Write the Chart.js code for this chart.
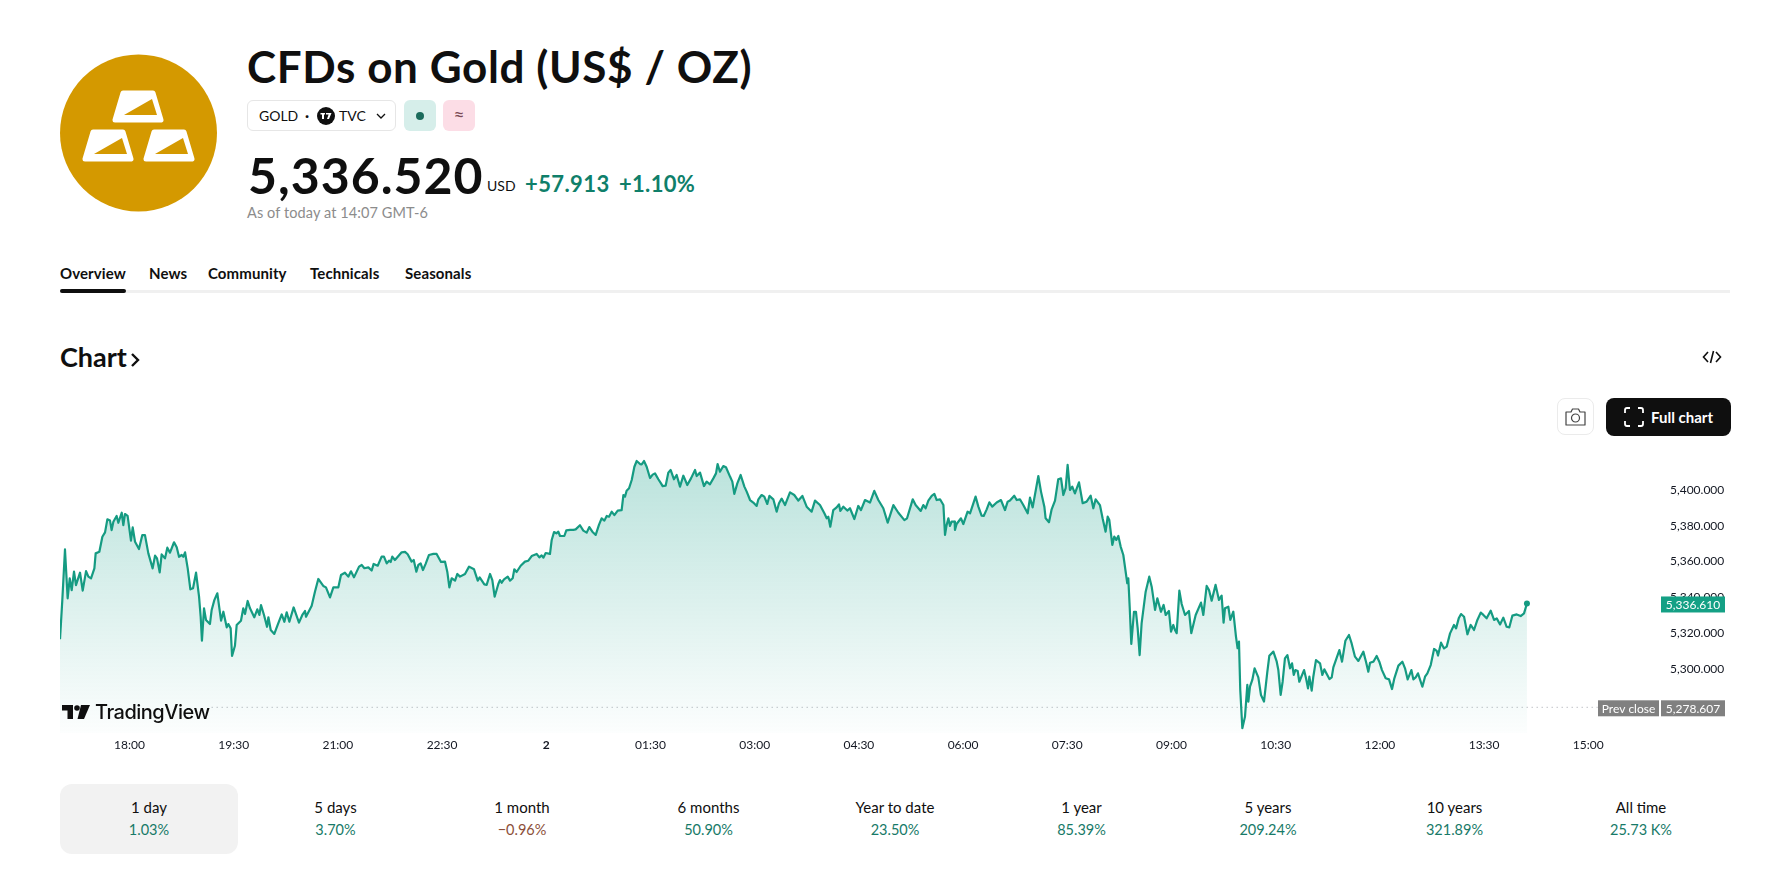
<!DOCTYPE html>
<html>
<head>
<meta charset="utf-8">
<title>CFDs on Gold (US$ / OZ)</title>
<script src="https://cdn.jsdelivr.net/npm/chart.js@4"></script>
<style>
  html, body { margin: 0; background: #fff; }
  body { width: 1771px; height: 873px; position: relative; overflow: hidden; font-family: Lato, "Noto Sans", sans-serif; color: #0f0f0f; }
  .abs { position: absolute; white-space: nowrap; }
  .chip { position: absolute; top: 100px; height: 31px; border-radius: 6px; box-sizing: border-box; }
  .tab { position: absolute; top: 263px; font-size: 15px; font-weight: 700; line-height: 20px; letter-spacing: 0.1px; }
  .period { position: absolute; top: 784px; width: 178px; height: 70px; text-align: center; border-radius: 12px; }
  .period .name { position: absolute; left: 0; right: 0; top: 13px; font-size: 15px; line-height: 20px; }
  .period .perf { position: absolute; left: 0; right: 0; top: 36px; font-size: 14.5px; line-height: 20px; color: #177a68; }
  #chartWrap { position: absolute; left: 60px; top: 440px; }
</style>
</head>
<body>

<svg class="abs" style="left:60px;top:54px" width="157" height="158" viewBox="60 54 157 158">
  <circle cx="138.5" cy="133" r="78.5" fill="#d49900"/>
  <g id="bar">
    <path d="M123 93 L153 93 L161 120 L115 120 Z" fill="#fff" stroke="#fff" stroke-width="5" stroke-linejoin="round"/>
    <path d="M152 99 L157 115 L124 115 Z" fill="#d49900"/>
  </g>
  <use href="#bar" x="-30" y="39"/>
  <use href="#bar" x="31" y="39"/>
</svg>

<div class="abs" style="left:247px;top:39px;font-size:44px;font-weight:700;line-height:54px;letter-spacing:0.6px">CFDs on Gold (US$ / OZ)</div>

<div class="chip" style="left:247px;width:149px;border:1px solid #e6e6e6"></div>
<div class="abs" style="left:259px;top:106px;font-size:14px;line-height:20px">GOLD</div>
<div class="abs" style="left:305px;top:105px;font-size:15px;line-height:20px;font-weight:700">·</div>
<svg class="abs" style="left:317px;top:107px" width="18" height="18" viewBox="0 0 18 18">
  <circle cx="9" cy="9" r="9" fill="#0f0f0f"/>
  <path d="M3.5 6 H8 V7.5 H7 V12 H5 V7.5 H3.5 Z M9 6 H14.5 L12 12 H10 L11.6 7.5 H9 Z" fill="#fff"/>
</svg>
<div class="abs" style="left:339px;top:106px;font-size:14px;line-height:20px">TVC</div>
<svg class="abs" style="left:376px;top:112px" width="10" height="8" viewBox="0 0 10 8"><path d="M1 2 L5 6 L9 2" fill="none" stroke="#0f0f0f" stroke-width="1.3"/></svg>
<div class="chip" style="left:404px;width:32px;background:#d6eeea"></div>
<div class="abs" style="left:416px;top:112px;width:8px;height:8px;border-radius:50%;background:#1b6b5c"></div>
<div class="chip" style="left:443px;width:32px;background:#fcdde6"></div>
<div class="abs" style="left:443px;width:32px;text-align:center;top:104px;font-size:19px;line-height:22px;color:#7a4a55">≈</div>

<div class="abs" style="left:248px;top:145px;font-size:50px;font-weight:700;line-height:60px;letter-spacing:1px">5,336.520</div>
<div class="abs" style="left:487px;top:177px;font-size:14px;line-height:18px">USD</div>
<div class="abs" style="left:525px;top:171px;font-size:22px;font-weight:700;line-height:26px;letter-spacing:0.4px;color:#0f7f6a">+57.913</div>
<div class="abs" style="left:619px;top:171px;font-size:22px;font-weight:700;line-height:26px;letter-spacing:0.3px;color:#0f7f6a">+1.10%</div>
<div class="abs" style="left:247px;top:203px;font-size:14.5px;line-height:20px;letter-spacing:0.1px;color:#8c8c8c">As of today at 14:07 GMT-6</div>

<div class="tab" style="left:60px">Overview</div>
<div class="tab" style="left:149px">News</div>
<div class="tab" style="left:208px">Community</div>
<div class="tab" style="left:310px">Technicals</div>
<div class="tab" style="left:405px">Seasonals</div>
<div class="abs" style="left:60px;top:290px;width:1670px;height:3px;background:#f0f0f0"></div>
<div class="abs" style="left:60px;top:289px;width:66px;height:4px;border-radius:2px;background:#0f0f0f"></div>

<div class="abs" style="left:60px;top:340px;font-size:27px;font-weight:700;line-height:34px">Chart</div>
<svg class="abs" style="left:130px;top:352px" width="10" height="16" viewBox="0 0 10 16"><path d="M2 2 L8 8 L2 14" fill="none" stroke="#0f0f0f" stroke-width="2.4"/></svg>
<svg class="abs" style="left:1702px;top:348px" width="20" height="18" viewBox="0 0 20 18"><path d="M6 4 L1.5 9 L6 14 M14 4 L18.5 9 L14 14 M11.5 3 L8.5 15" fill="none" stroke="#0f0f0f" stroke-width="1.6"/></svg>

<div class="abs" style="left:1557px;top:398px;width:37px;height:37px;box-sizing:border-box;border:1px solid #ebebeb;border-radius:8px"></div>
<svg class="abs" style="left:1565px;top:407px" width="21" height="19" viewBox="0 0 21 19">
  <path d="M1 5 H6 L7.5 2 H13.5 L15 5 H20 V18 H1 Z" fill="none" stroke="#444" stroke-width="1.2" stroke-linejoin="round"/>
  <circle cx="10.5" cy="11" r="4" fill="none" stroke="#444" stroke-width="1.2"/>
</svg>
<div class="abs" style="left:1606px;top:398px;width:125px;height:38px;background:#0f0f0f;border-radius:8px"></div>
<svg class="abs" style="left:1624px;top:407px" width="20" height="20" viewBox="0 0 20 20"><path d="M1 6 V3 Q1 1 3 1 H6 M14 1 H17 Q19 1 19 3 V6 M19 14 V17 Q19 19 17 19 H14 M6 19 H3 Q1 19 1 17 V14" fill="none" stroke="#fff" stroke-width="1.8"/></svg>
<div class="abs" style="left:1651px;top:407px;font-size:15px;font-weight:700;line-height:20px;color:#fff">Full chart</div>

<div id="chartWrap"><canvas id="goldChart" width="1671" height="330"></canvas></div>

<svg class="abs" style="left:62px;top:705px" width="28" height="14" viewBox="0 0 28 14">
  <path d="M0 0 H11 V14 H5.5 V5.5 H0 Z" fill="#0f0f0f"/><circle cx="15" cy="3" r="2.8" fill="#0f0f0f"/>
  <path d="M19 0 H28 L22 14 H15.5 Z" fill="#0f0f0f"/>
</svg>
<div class="abs" style="left:95px;top:699px;font-size:20px;font-weight:500;line-height:26px;font-family:Inter,Lato,sans-serif;letter-spacing:-0.5px">TradingView</div>

<div id="periods"></div>

<script>
// minutes since 17:00 of the previous day
const times = [0,2,4.3,6.6,8.4,10.1,12.1,13.8,17.3,19.6,22.5,24.5,26.8,29.7,30.8,34,36.6,38.9,40.9,43.2,44.6,46.1,48.9,50.4,53.3,54.7,56.1,58.4,61.3,62.8,64.8,68.2,71.1,73.4,76.3,80,82.1,83.8,86.1,87.8,90.7,92.7,95,98.5,100.8,102.8,105.1,106.5,108,110.3,112.6,114.9,117.5,120.1,121.5,122.6,124.4,126.1,129.5,131,133.3,135.9,139.1,141.1,144,145.4,147.4,148.6,151.1,152.6,156.3,158.3,159.8,162.1,164.1,167.8,170.4,172.2,173.6,176.2,178.8,180,182,185.1,188,191.5,193.8,195.8,198.1,201.8,206.4,209.3,211.6,212.5,217.4,220.2,223.1,227.4,229.7,233.2,236.1,240.4,242.7,246.1,249,251.3,253.9,
  258.3,260.6,262.9,266.3,269.2,270.9,274.4,277.8,279.8,282.2,284.2,285.6,287,289.3,295.1,298,300.3,303.7,305.5,307.8,309.5,311.5,313.5,315.8,318.7,322.5,325.3,329.1,332.5,334.5,336.3,338.3,341.2,343.2,345.5,349.8,353.3,357.6,360.8,362.5,366.5,368.5,371.4,373.4,375.4,378.6,380,381.5,383.5,386.7,388.7,391,392.4,394.4,397.9,401.6,404.5,407.4,411.7,414,416,417.5,419.5,423.2,424.7,426.7,428.7,430.4,431.9,435.6,437.3,440.5,443.4,445.4,449.1,452,454.9,457.2,459.8,462.7,465.5,467.8,470.2,472.2,474.2,476.5,478.8,481.7,485.1,486.6,488,489.4,491.5,493.8,496.1,498.1,501,502.4,504.4,506.7,509.6,511.9,
  513.9,516.8,519.1,520.5,523.1,525.4,527.4,530.3,532.6,535.5,538.4,541.8,545,548.5,549.9,552.8,556.2,558.5,561.4,564.3,566.6,568,570,572.9,575.2,578.7,580.7,582.4,585,587.9,591.1,593.1,596,598.8,601.7,603.2,606,608.3,610.9,612.7,616.1,619,621,623.3,626.2,630.5,634.2,637.7,641.2,644.9,649.2,652.1,656.4,660.2,662.2,663.6,665.3,667.9,670.8,672.8,674,676.6,680,682.3,686.1,689.5,691.8,695.3,699.6,703.3,706.8,711.1,714.9,719.8,724.1,729.3,731.6,736.5,739,743.4,745.7,747.7,750,752.9,755.2,757.2,760.1,763,764.4,765.8,767.3,768.7,770.1,772.7,
  773,774.4,778.2,780.2,783.9,786,790.8,793.2,796,797.8,800.4,802.7,805.2,809,812.7,816.2,818.5,820.5,824.2,826.3,829.1,832,835.8,837.8,840.1,845,847.3,850.2,851.3,854.2,856.5,859.4,862.2,864.6,866.6,868.6,870.3,872.3,874.3,876.6,880.1,883.3,886.7,890.2,892.5,894.5,898.2,900.5,903.1,904.9,906.3,908.9,910.6,912.3,914.1,916.1,918.4,921.8,922.7,923.9,925.3,927.6,929.3,930.8,932.5,934.2,937.7,940.8,942.9,945.8,947.8,950.9,953.2,955,957.8,959.6,961.6,963,964.5,966.8,968.8,971.7,975.1,977.1,980.9,985.5,987.5,990.4,992.4,994.7,998.1,1001,1003.3,1005,1006.2,1009.1,1010.8,1013.4,1015.7,1017.1,1018.3,1019.4,1021.2,1023.5,1025.5,1026.4,1027.8,1029.8,1031.8,
  1035,1037.3,1039.9,1042.8,1044.5,1048,1050.9,1052.3,1054.3,1056,1058,1060.1,1062.4,1064.1,1065.6,1067,1069,1070.4,1074.5,1076.2,1077.9,1079.1,1081.1,1082.5,1084.8,1088.3,1090.3,1092,1096.4,1098.4,1099.8,1105,1107.3,1110.2,1113.3,1115.6,1118.5,1121.4,1125.7,1128,1130,1131.5,1134.4,1137.2,1139.5,1141.8,1145,1147.9,1150.5,1152.5,1156,1159.4,1161.7,1164,1165.5,1167.2,1168.9,1170.9,1172.9,1176.7,1179,1181,1183.9,1186.8,1189.1,1190.2,1192.8,1195.4,1197.7,1200.6,1204,1205.8,1208.1,1210.1,1212.7,1215.6,1218.4,1221.3,1224.2,1227.1,1229.4,1232.2,1235.7,1238.6,1240.9,1243.8,1246.6,1249.5,1251.8,1254.4,1258.2,1261.6,1264.5,1267];

const prices = [5316.6,5338.5,5366.8,5339.5,5350.6,5344.1,5354.4,5346.9,5353.8,5343.8,5354.7,5351.6,5350.6,5356.2,5364.6,5365.5,5373.9,5376.3,5383.6,5382.9,5377.6,5382.3,5385.5,5381.7,5387.3,5380.4,5386.6,5385.5,5371.7,5379.1,5371.1,5367,5374.8,5374.8,5364.6,5356.2,5363.3,5361.8,5354,5364,5361.8,5367.8,5365,5370.8,5368,5362.7,5363.7,5362.7,5365.2,5356.2,5344.5,5345.1,5353.8,5340.4,5329.2,5315.8,5333.9,5327.4,5325.1,5333,5338.5,5342.3,5327,5332,5323.3,5325.1,5322.7,5307.3,5313,5324.6,5327,5333.9,5330.7,5338,5333.9,5328.9,5333.3,5330.2,5335.7,5330.2,5323.6,5328.9,5321.8,5319.6,5324.6,5330.5,5326.4,5331.7,5326.4,5334.4,5325.9,5330.2,5332.4,5329.2,5335.4,5343.2,5350.3,5346.4,5345.6,5340,5345.6,5345.6,5352.5,5353.8,5351.6,5354.6,5351.2,
  5357.2,5358.1,5356.3,5356.8,5355,5358.7,5357.7,5362.8,5362.8,5359,5360.5,5359.8,5362.8,5360.9,5365.2,5365.4,5364.1,5360,5360.9,5354.4,5358.1,5359,5355.3,5358.7,5363.7,5364.3,5364.3,5359.8,5360,5354.4,5345.6,5350.7,5349.4,5353.1,5351.6,5353.1,5357.2,5355.7,5349.4,5351.2,5347.3,5347,5353.1,5349.7,5340.4,5347.5,5349.7,5348.2,5350.1,5351.6,5349.4,5350.7,5355.7,5354.2,5357.7,5360,5360.5,5363.1,5364.3,5362.4,5363.5,5362.2,5364.8,5364.3,5372.1,5376.5,5375.8,5376.7,5374.3,5374.3,5377.5,5377.7,5377.7,5378,5380.3,5377.3,5376.2,5379.3,5376.7,5374.9,5380.5,5384.2,5382.9,5385.5,5385.1,5387.9,5386,5388.5,5388.8,5397.2,5396.3,5399.6,5401,5405.6,5413,5416.2,5414.5,5414.3,5416.2,5413,5406.7,5408.6,
  5409.3,5406,5403.7,5402.2,5402.4,5409.7,5411.2,5406,5408.4,5401.9,5408,5402.8,5406.5,5411.2,5407.8,5409.7,5402.2,5404.7,5403.2,5406.5,5409.3,5414.5,5410.2,5413.4,5412.7,5407.5,5404.7,5397.8,5403.7,5408.4,5401.9,5399.1,5394.4,5393,5391.1,5394.8,5397.2,5396.3,5392.2,5396.7,5394.8,5387.9,5392.6,5395.2,5391.6,5398.7,5397.2,5394.1,5396.7,5390.7,5387.9,5394.1,5391.6,5387,5384.2,5385.1,5379.5,5388.8,5390.3,5392,5388.3,5390.7,5388.5,5389.8,5383.8,5391.1,5388.8,5394.4,5393,5399.5,5394.4,5389.8,5381.8,5391.6,5387.3,5383.2,5384.2,5394.8,5391.6,5388.3,5391.6,5389.8,5394.1,5396.7,5397.8,5394.4,5394.8,5391.6,5374.9,5380.5,5384.2,5379.9,5382.3,5382.3,
  5377.7,5381,5384.2,5381,5387.9,5387,5396.3,5390.7,5385.7,5385.5,5389.2,5393.1,5390.7,5393,5394.4,5388.8,5393.5,5394.1,5396.8,5394.4,5394.8,5391.6,5387,5395.7,5390.3,5407.8,5399.1,5390.7,5384.2,5382,5389.2,5394.1,5406,5406.5,5397.2,5401,5414,5400,5401.9,5398.1,5404.3,5392.6,5393.5,5396.8,5389.8,5394.8,5391.6,5384.2,5376.7,5385.1,5383.2,5369.3,5374,5372.1,5374.3,5368.4,5363.7,5347.9,5350.7,5334.8,5314,5332,5332,5322.7,5307.8,5325.5,5343.2,5351.6,5346,5333,5339.5,5332,5335.8,5330.2,5332.4,5320.9,5324.6,5321.8,5320,5343.8,5336.3,5330.2,5332.4,5320,5330.2,5337.1,5330.2,5346.4,5344.1,5338.2,5347,5338.6,5341,5325.9,5333.9,5334.8,5327.4,5332,5318.1,5311.6,5315.3,5288.3,5266.9,5273.4,5291.1,5281.8,5290.1,5293.9,5300.4,
  5295.3,5285.5,5281.8,5298.5,5307.4,5309.7,5304.1,5299.4,5285.5,5292.9,5305.9,5307.8,5300.4,5303.2,5296.7,5299.4,5298.9,5292.9,5299.4,5294.8,5289.2,5295.7,5287.9,5295.7,5305,5303.2,5296.7,5299.8,5294.4,5295.3,5300.9,5310.6,5304.1,5315.8,5319,5314.3,5306.9,5304.5,5309.7,5304.1,5298.5,5303.5,5304.1,5307.3,5304.1,5299.4,5294.8,5294.2,5288.8,5294.8,5301.9,5304.1,5300.4,5294.2,5296.6,5299.4,5294.2,5295.3,5297.6,5290.1,5295.7,5297.6,5302.2,5311.2,5310.1,5307.5,5314.7,5311.5,5312.5,5319.9,5324.6,5322.7,5328.3,5330.7,5329.2,5319.4,5324.6,5321.8,5327.4,5331.5,5330.2,5328.3,5332.6,5327.4,5328.3,5324.9,5328.7,5323.6,5323.3,5329.8,5330.5,5329.6,5331.1,5336.6];

const prevCloseTimes = [131, 1328];
const prevCloseValues = [5278.607, 5278.607];

const xTickValues = [60, 150, 240, 330, 420, 510, 600, 690, 780, 870, 960, 1050, 1140, 1230, 1320];
const xTickLabels = ["18:00", "19:30", "21:00", "22:30", "2", "01:30", "03:00", "04:30", "06:00", "07:30", "09:00", "10:30", "12:00", "13:30", "15:00"];
const yTickValues = [5300, 5320, 5340, 5360, 5380, 5400];

const periodNames = ["1 day", "5 days", "1 month", "6 months", "Year to date", "1 year", "5 years", "10 years", "All time"];
const periodPerf = ["1.03%", "3.70%", "−0.96%", "50.90%", "23.50%", "85.39%", "209.24%", "321.89%", "25.73 K%"];

const lastPrice = 5336.61;
const prevClose = 5278.607;

// period strip under the chart
const strip = document.getElementById("periods");
periodNames.forEach((name, i) => {
  const d = document.createElement("div");
  d.className = "period";
  d.style.left = 60 + i * 186.5 + "px";
  if (i === 0) d.style.background = "#f2f2f2";
  const red = periodPerf[i].startsWith("−") ? "color:#8c4f3a" : "";
  d.innerHTML = `<div class="name">${name}</div><div class="perf" style="${red}">${periodPerf[i]}</div>`;
  strip.appendChild(d);
});

const fmt = (v) => v.toLocaleString("en-US", { minimumFractionDigits: 3, maximumFractionDigits: 3 });

// the coloured price tags on the right axis
const priceTags = {
  id: "priceTags",
  afterDraw(chart) {
    const { ctx, scales } = chart;
    const tag = (x, w, cy, text, bg) => {
      ctx.fillStyle = bg;
      ctx.fillRect(x, cy - 8, w, 16);
      ctx.fillStyle = "#fff";
      ctx.font = "12px Lato, sans-serif";
      ctx.textAlign = "center";
      ctx.textBaseline = "middle";
      ctx.fillText(text, x + w / 2, cy + 0.5);
    };
    const right = scales.x.right;
    tag(right, 64, scales.y.getPixelForValue(lastPrice) + 1, fmt(lastPrice), "#14a085");
    const py = scales.y.getPixelForValue(prevClose) + 1;
    tag(right, 64, py, fmt(prevClose), "#808080");
    tag(right - 63, 61, py, "Prev close", "#808080");
  },
};

new Chart(document.getElementById("goldChart"), {
  type: "line",
  plugins: [priceTags],
  data: {
    datasets: [
      {
        data: times.map((t, i) => ({ x: t, y: prices[i] })),
        borderColor: "#159b82",
        borderWidth: 2.2,
        borderJoinStyle: "round",
        tension: 0,
        fill: "start",
        backgroundColor: (c) => {
          const { ctx, chartArea } = c.chart;
          if (!chartArea) return "transparent";
          const g = ctx.createLinearGradient(0, chartArea.top + 10, 0, chartArea.bottom);
          g.addColorStop(0, "rgba(8,153,129,0.28)");
          g.addColorStop(1, "rgba(8,153,129,0.01)");
          return g;
        },
        pointRadius: (c) => (c.dataIndex === times.length - 1 ? 3 : 0),
        pointBackgroundColor: "#159b82",
        pointBorderWidth: 0,
      },
      {
        data: prevCloseTimes.map((t, i) => ({ x: t, y: prevCloseValues[i] })),
        borderColor: "#a0a3ab",
        borderWidth: 1,
        borderDash: [1, 4],
        pointRadius: 0,
        fill: false,
      },
    ],
  },
  options: {
    responsive: false,
    animation: false,
    devicePixelRatio: 1,
    layout: { autoPadding: false, padding: { top: 10 } },
    plugins: { legend: { display: false }, tooltip: { enabled: false } },
    scales: {
      x: {
        type: "linear",
        min: 0,
        max: 1382.8,
        grid: { display: false, drawTicks: false },
        border: { display: false },
        afterBuildTicks: (axis) => { axis.ticks = xTickValues.map((v) => ({ value: v })); },
        // fixed axis box, no label overhang, so the plot stays where the picture has it
        afterFit: (axis) => { axis.height = 37; axis.paddingLeft = 0; axis.paddingRight = 0; },
        ticks: {
          autoSkip: false,
          maxRotation: 0,
          padding: 5,
          color: "#131722",
          font: (c) => ({ family: "Lato, sans-serif", size: 12, weight: xTickLabels[c.index] === "2" ? "700" : "400" }),
          callback: (v, i) => xTickLabels[i],
        },
      },
      y: {
        position: "right",
        min: 5264.25,
        max: 5422.35,
        grid: { display: false, drawTicks: false },
        border: { display: false },
        afterBuildTicks: (axis) => { axis.ticks = yTickValues.map((v) => ({ value: v })); },
        afterFit: (axis) => { axis.width = 70; axis.paddingTop = 0; axis.paddingBottom = 0; },
        ticks: {
          crossAlign: "near",
          padding: 9,
          color: "#131722",
          font: { family: "Lato, sans-serif", size: 12 },
          callback: (v) => fmt(v),
        },
      },
    },
  },
});
</script>
</body>
</html>
